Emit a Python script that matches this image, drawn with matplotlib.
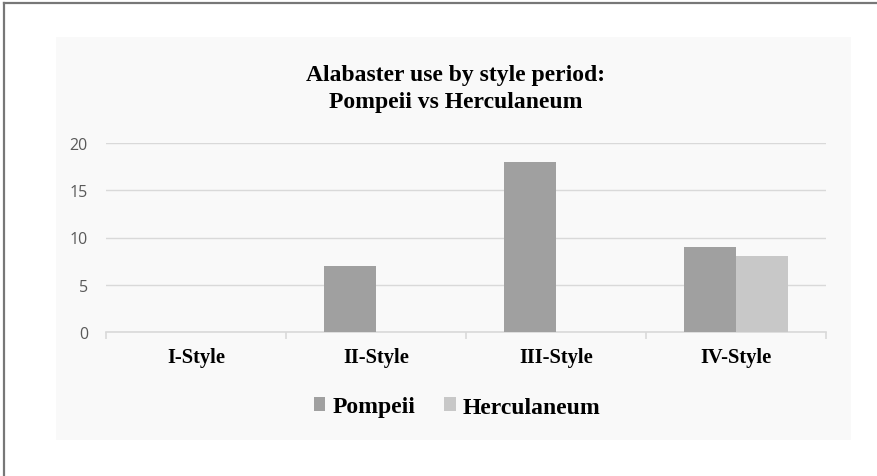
import matplotlib
matplotlib.use("Agg")
import matplotlib.pyplot as plt
from matplotlib.patches import Rectangle
from matplotlib.lines import Line2D
import numpy as np

categories = ["I-Style", "II-Style", "III-Style", "IV-Style"]
pompeii = [0, 7, 18, 9]
herculaneum = [0, 0, 0, 8]
series_names = ["Pompeii", "Herculaneum"]
yticks = [0, 5, 10, 15, 20]
title_lines = ["Alabaster use by style period:", "Pompeii vs Herculaneum"]

W, H = 877, 477
fig = plt.figure(figsize=(W / 100, H / 100), dpi=100)
fig.patch.set_facecolor("white")

# chart area background
fig.patches.append(Rectangle((56 / W, 1 - 441 / H), (851 - 56) / W, (441 - 38) / H,
                             transform=fig.transFigure, facecolor="#f9f9f9",
                             edgecolor="none", zorder=-5))
# frame lines (top and left)
fig.lines.append(Line2D([4 / W, 1], [1 - 4 / H, 1 - 4 / H], transform=fig.transFigure,
                        color="#777777", linewidth=1.6))
fig.lines.append(Line2D([4 / W, 4 / W], [0, 1 - 4 / H], transform=fig.transFigure,
                        color="#777777", linewidth=1.6))

ax = fig.add_axes([106 / W, 1 - 333 / H, (826 - 106) / W, (333 - 144) / H])
ax.set_zorder(2)
ax.set_facecolor("none")
x = np.arange(len(categories))
bw = 52 / 180
ax.bar(x - bw / 2, pompeii, width=bw, color="#a0a0a0", label=series_names[0], zorder=3)
ax.bar(x + bw / 2, herculaneum, width=bw, color="#c8c8c8", label=series_names[1], zorder=3)

ax.set_xlim(-0.5, len(categories) - 0.5)
ax.set_ylim(0, 20)
ax.set_yticks(yticks)
ax.set_yticklabels([str(v) for v in yticks], family="Open Sans", fontsize=11.5, color="#595959")
ax.tick_params(axis="y", length=0, pad=13)
ax.grid(axis="y", color="#d9d9d9", linewidth=1.0, zorder=0)
for s in ["top", "right", "left"]:
    ax.spines[s].set_visible(False)
ax.spines["bottom"].set_color("#d9d9d9")
ax.spines["bottom"].set_linewidth(1.2)

ax.set_xticks(np.arange(len(categories) + 1) - 0.5, minor=True)
ax.set_xticks(x)
ax.set_xticklabels(categories, family="Liberation Serif", fontweight="bold", fontsize=14.8,
                   color="black")
ax.tick_params(axis="x", which="major", length=0, pad=11)
ax.tick_params(axis="x", which="minor", length=5, color="#d9d9d9", width=1.2)

for i, line in enumerate(title_lines):
    fig.text(456 / W, 1 - (81 + 27 * i) / H, line, ha="center", va="baseline",
             family="Liberation Serif", fontweight="bold", fontsize=17)

leg = fig.legend(loc="center", bbox_to_anchor=(457 / W, 1 - 408 / H), ncol=2, frameon=False,
                 prop={"family": "Liberation Serif", "weight": "bold", "size": 17},
                 handlelength=0.5, handleheight=0.5, handletextpad=0.3, columnspacing=1.2)
leg.set_zorder(3)

fig.savefig("out.png", dpi=100)
